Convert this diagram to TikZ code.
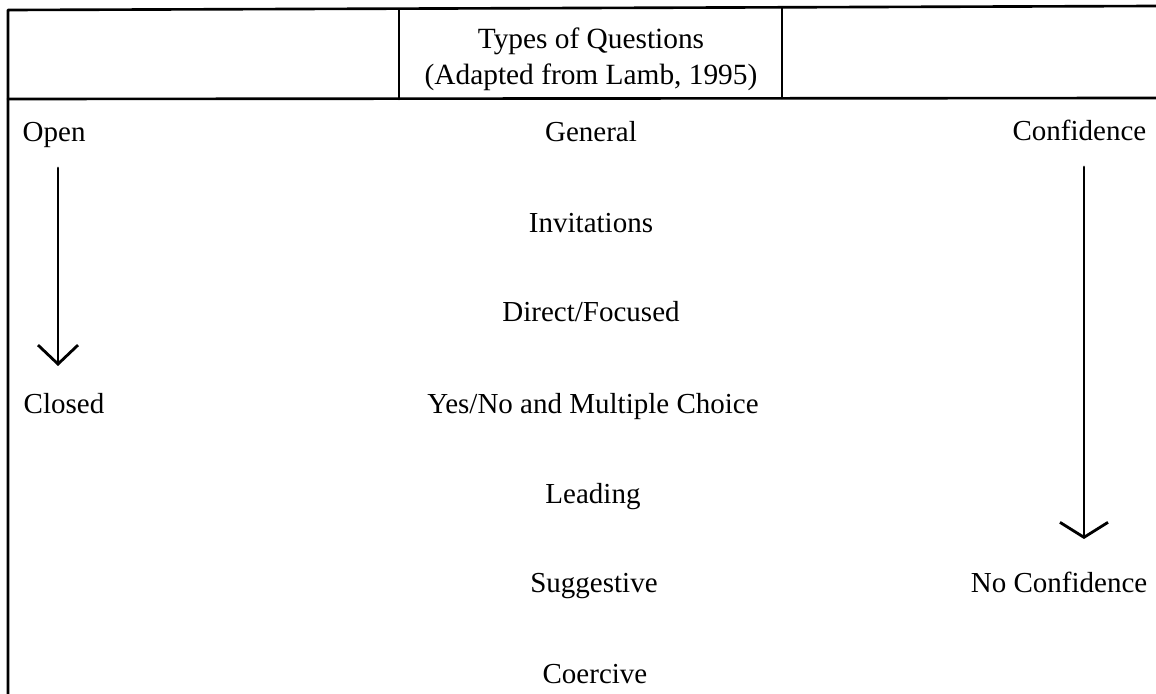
\documentclass[tikz,border=0pt]{standalone}
\usepackage{fontspec}
\setmainfont{Liberation Serif}
\usetikzlibrary{arrows.meta}
\begin{document}
\begin{tikzpicture}[x=0.01cm,y=-0.01cm,
  rule/.style={line width=0.75pt, line cap=round, line join=round},
  item/.style={inner sep=0pt, font=\fontsize{8.25}{10}\selectfont},
  title/.style={inner sep=0pt, font=\fontsize{8.35}{10}\selectfont},
  scalearrow/.style={line width=0.8pt, line cap=round}
]
\useasboundingbox (0,0) rectangle (1156,694);

% table frame with the header cell
\draw[rule] (8,694) -- (8,10) -- (1156,6);
\draw[rule] (8,99) -- (1156,98);
\draw[rule] (399,10) -- (399,99);
\draw[rule] (782,8) -- (782,98);

% header
\node[title, anchor=base] (t1) at (591,48) {Types of Questions};
\node[title, anchor=base] (t2) at (591,84) {(Adapted from Lamb, 1995)};

% question types
\node[item, anchor=base] (q1) at (591,141) {General};
\node[item, anchor=base] (q2) at (591,232) {Invitations};
\node[item, anchor=base] (q3) at (591,322) {Direct/Focused};
\node[item, anchor=base] (q4) at (593,414) {Yes/No and Multiple Choice};
\node[item, anchor=base] (q5) at (593,504) {Leading};
\node[item, anchor=base] (q6) at (594,593) {Suggestive};
\node[item, anchor=base] (q7) at (595,684) {Coercive};

% open/closed scale
\node[item, anchor=base west] (open) at (22,141) {Open};
\node[item, anchor=base west] (closed) at (23,414) {Closed};
\coordinate (os) at (58,168);
\coordinate (oe) at (58,366);
\draw[scalearrow, -{Straight Barb[length=0.19cm,width=0.40cm]}] (os) -- (oe);

% confidence scale
\node[item, anchor=base east] (conf) at (1147,140) {Confidence};
\node[item, anchor=base east] (noconf) at (1148,593) {No Confidence};
\coordinate (cs) at (1084,167);
\coordinate (ce) at (1084,539);
\draw[scalearrow, -{Straight Barb[length=0.15cm,width=0.48cm]}] (cs) -- (ce);
\end{tikzpicture}
\end{document}
